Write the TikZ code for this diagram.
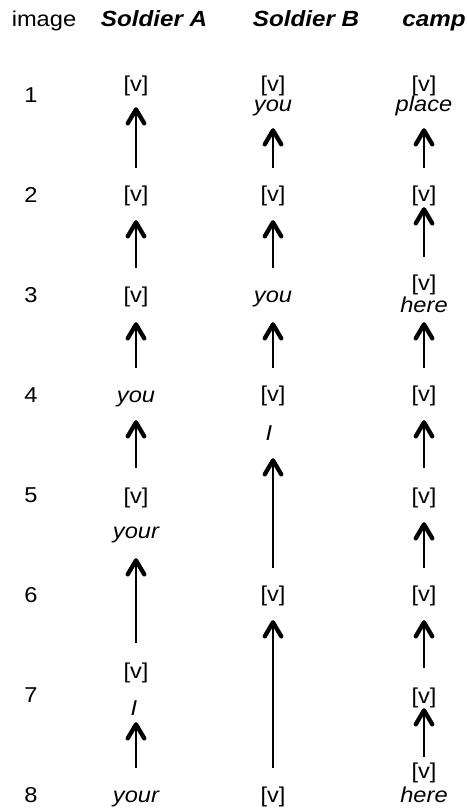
\documentclass[tikz,border=0pt]{standalone}
\usepackage{fontspec}
\setmainfont{Liberation Sans}[FakeStretch=1.1]
\usetikzlibrary{arrows.meta}

\tikzset{
  lbl/.style={inner sep=0pt, anchor=base, text height=15pt, text depth=4.5pt,
    font=\fontsize{21.5}{25}\selectfont},
  word/.style={lbl, font=\fontsize{21.5}{25}\selectfont\itshape},
  head/.style={inner sep=0pt, anchor=base, font=\fontsize{22}{26}\selectfont\bfseries\itshape},
  arr/.style={line width=1.5pt,
    -{Straight Barb[length=14pt,width=16.5pt,line width=4.3pt,round]}},
}
% \link{lower node}{upper node}{gap at tail}{gap at tip}: a vertical arrow
\newcommand{\link}[4]{\draw[arr, shorten <=#3pt, shorten >=#4pt] (#1.north) -- (#1.north |- #2.south);}

\begin{document}
\begin{tikzpicture}[x=1pt,y=-1pt]
\useasboundingbox (0,0) rectangle (466,811);

% column headings
\node[inner sep=0pt, anchor=base, font=\fontsize{21.5}{25}\selectfont] (hImg) at (44,27) {image};
\node[head] (hA) at (154,27) {Soldier A};
\node[head] (hB) at (306,27) {Soldier B};
\node[head] (hC) at (434,27) {camp};

% image numbers
\foreach \k in {1,...,8}
  \node[lbl] (n\k) at (31,{102+100*(\k-1)}) {\k};

% Soldier A
\node[lbl]  (A1)  at (136,91)  {[v]};
\node[lbl]  (A2)  at (136,201) {[v]};
\node[lbl]  (A3)  at (136,302) {[v]};
\node[word] (A4)  at (136,402) {you};
\node[lbl]  (A5)  at (136,503) {[v]};
\node[word] (A5b) at (136,538) {your};
\node[lbl]  (A7)  at (136,678) {[v]};
\node[word] (A7b) at (134,715) {I};
\node[word] (A8)  at (136,802) {your};

% Soldier B
\node[lbl]  (B1)  at (273,91)  {[v]};
\node[word] (B1b) at (273,111) {you};
\node[lbl]  (B2)  at (273,201) {[v]};
\node[word] (B3)  at (273,302) {you};
\node[lbl]  (B4)  at (273,401) {[v]};
\node[word] (B4b) at (269,440) {I};
\node[lbl]  (B6)  at (273,601) {[v]};
\node[lbl]  (B8)  at (273,802) {[v]};

% camp
\node[lbl]  (C1)  at (424,91)  {[v]};
\node[word] (C1b) at (424,111) {place};
\node[lbl]  (C2)  at (424,201) {[v]};
\node[lbl]  (C3)  at (424,290) {[v]};
\node[word] (C3b) at (424,312) {here};
\node[lbl]  (C4)  at (424,401) {[v]};
\node[lbl]  (C5)  at (424,503) {[v]};
\node[lbl]  (C6)  at (424,601) {[v]};
\node[lbl]  (C7)  at (424,703) {[v]};
\node[lbl]  (C8)  at (424,778) {[v]};
\node[word] (C8b) at (424,802) {here};

% links, Soldier A
\link{A2}{A1}{18}{11.5}
\link{A3}{A2}{19}{14.5}
\link{A4}{A3}{19}{15.5}
\link{A5}{A4}{20}{13.5}
\link{A7}{A5b}{20}{15.5}
\link{A8}{A7b}{19}{2.5}

% links, Soldier B
\link{B2}{B1b}{18}{12.5}
\link{B3}{B2}{19}{14.5}
\link{B4}{B3}{18}{15.5}
\link{B6}{B4b}{18}{13.5}
\link{B8}{B6}{19}{14.5}

% links, camp
\link{C2}{C1b}{18}{12.5}
\link{C3}{C2}{18}{1.5}
\link{C4}{C3b}{18}{5.5}
\link{C5}{C4}{20}{14.5}
\link{C6}{C5}{18}{14.5}
\link{C7}{C6}{20}{14.5}
\link{C8}{C7}{6}{0.5}
\end{tikzpicture}
\end{document}
